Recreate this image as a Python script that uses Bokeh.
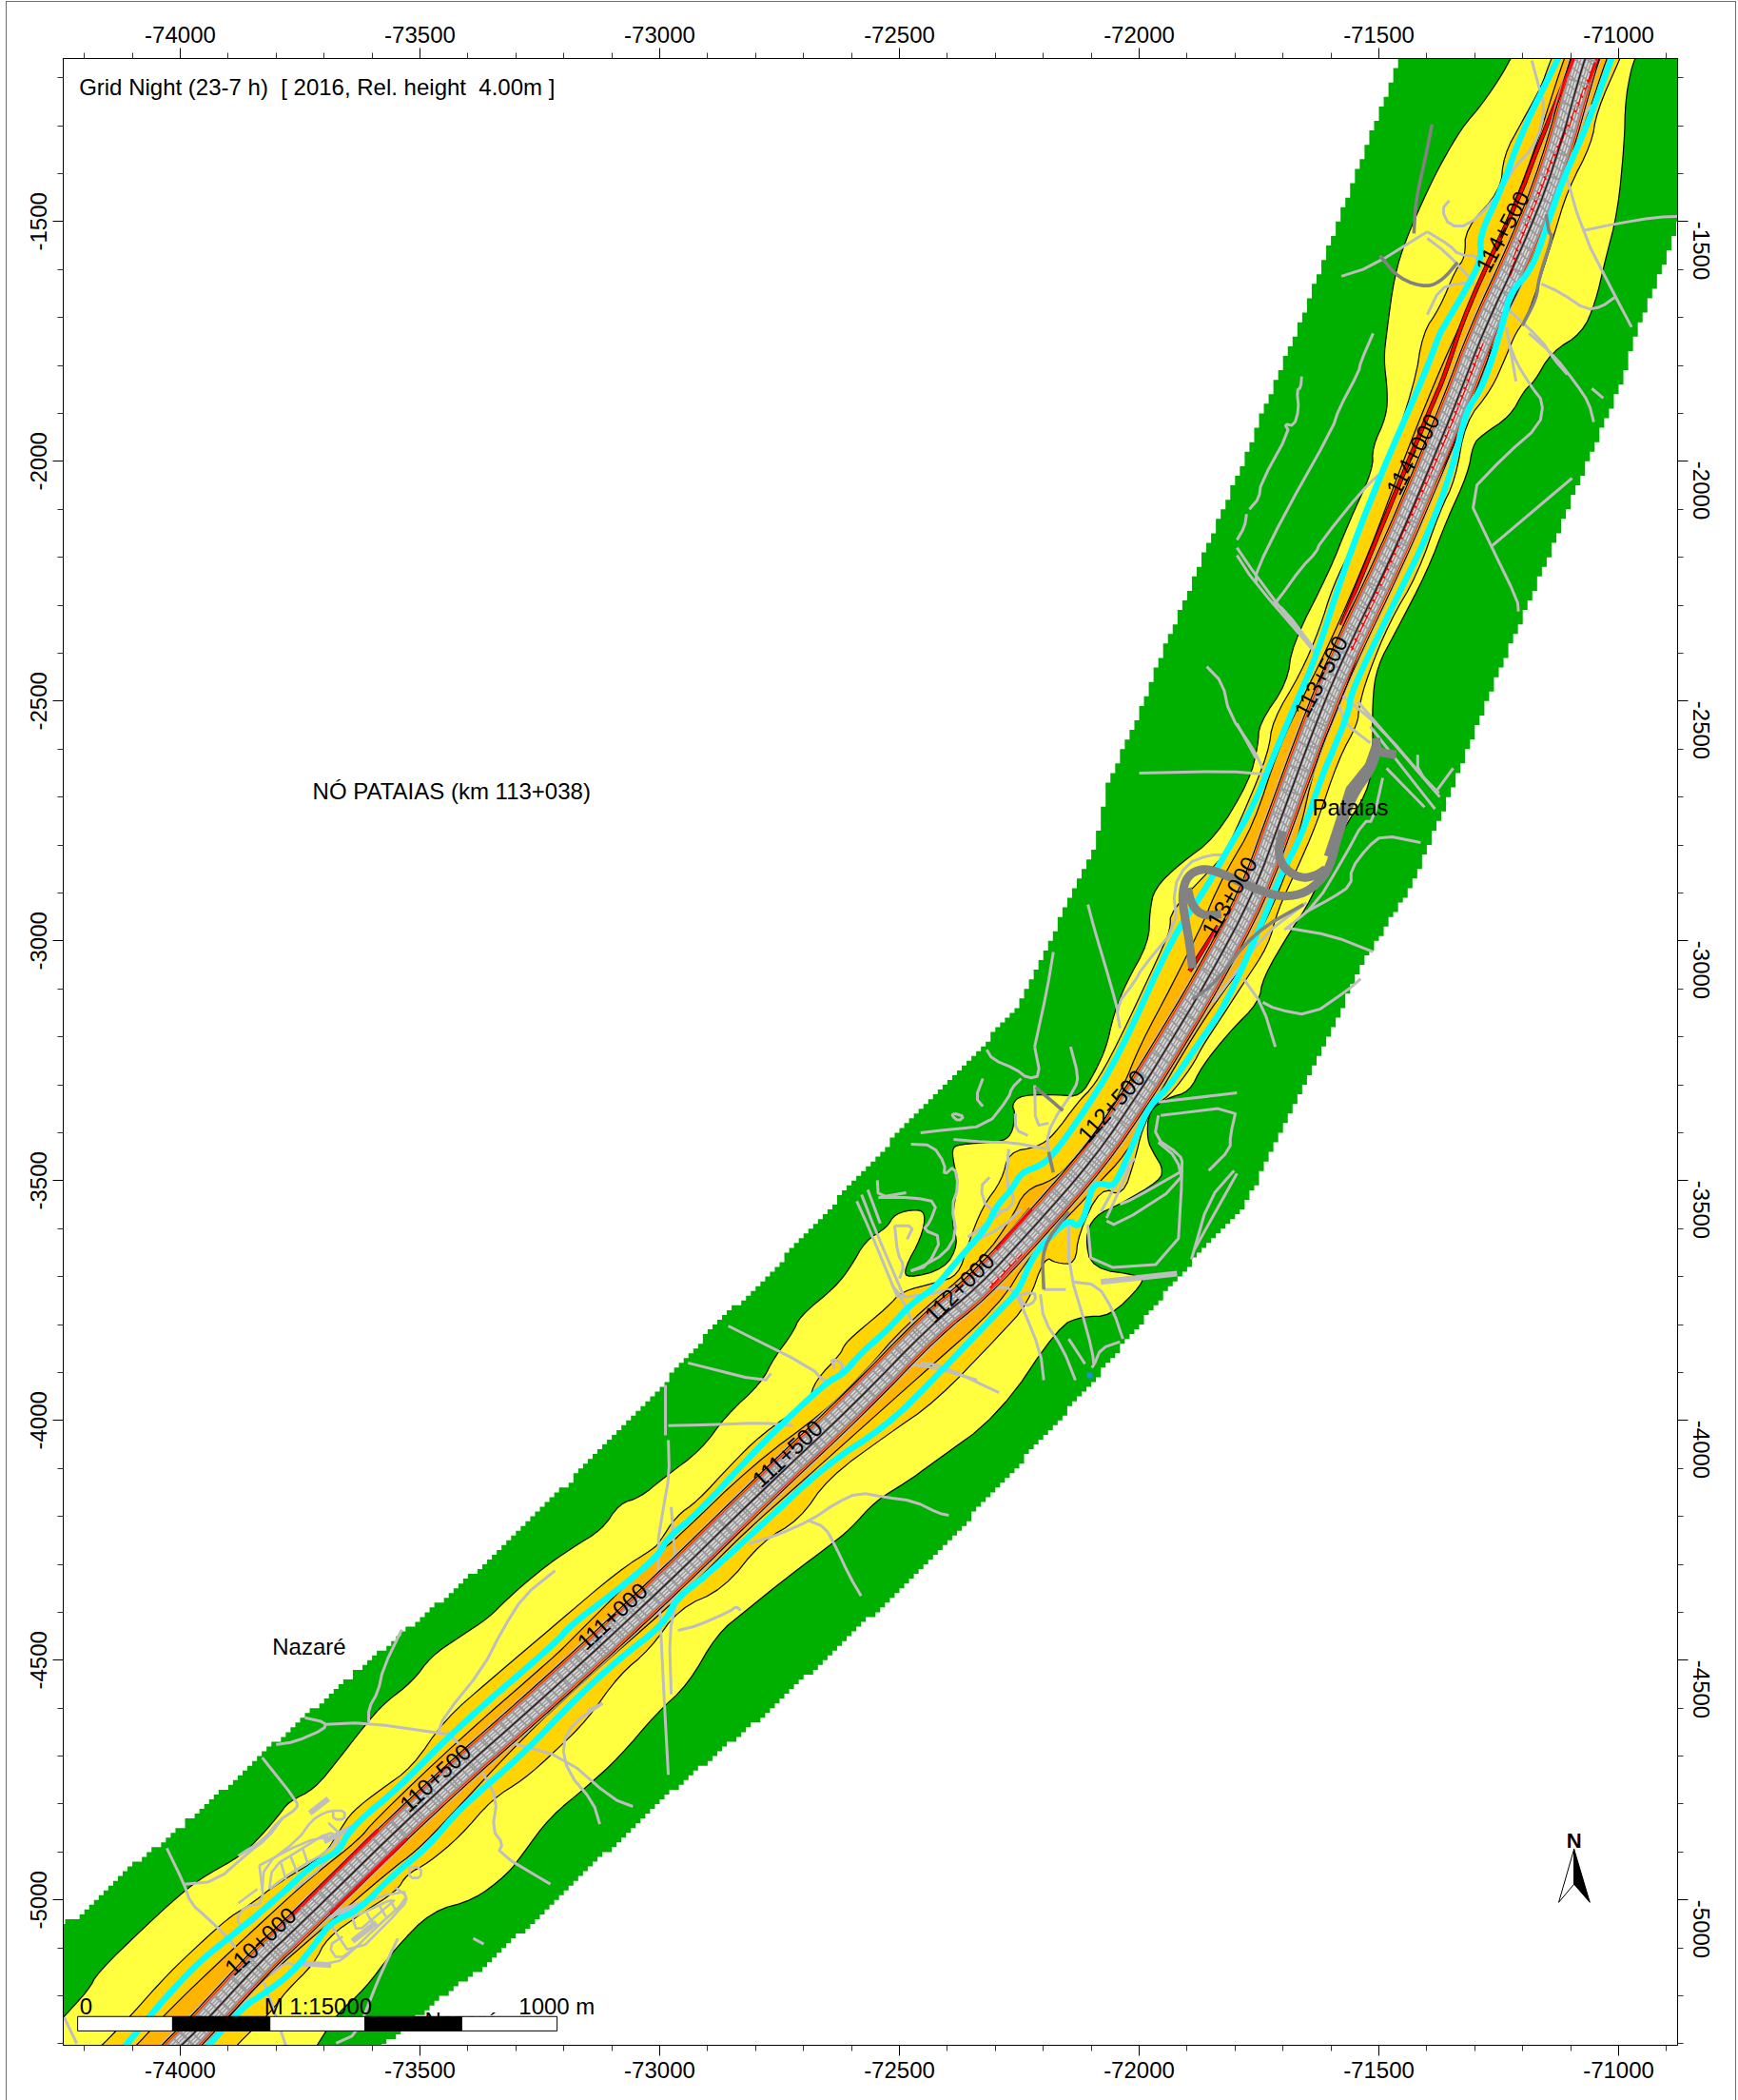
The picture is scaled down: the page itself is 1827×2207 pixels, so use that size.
import math
from bokeh.plotting import figure
from bokeh.embed import file_html
from bokeh.resources import INLINE
from bokeh.core.properties import value
from bokeh.models import LinearAxis, FixedTicker

# ---- axes ----
x_limits = (-74244, -70877)
y_limits = (-5303, -1160)
x_major = [-74000, -73500, -73000, -72500, -72000, -71500, -71000]
y_major = [-1500, -2000, -2500, -3000, -3500, -4000, -4500, -5000]
x_minor = [-74200, -74100, -73900, -73800, -73700, -73600, -73400, -73300, -73200, -73100, -72900, -72800, -72700, -72600, -72400, -72300, -72200, -72100, -71900, -71800, -71700, -71600, -71400, -71300, -71200, -71100, -70900]
y_minor = [-1200, -1300, -1400, -1600, -1700, -1800, -1900, -2100, -2200, -2300, -2400, -2600, -2700, -2800, -2900, -3100, -3200, -3300, -3400, -3600, -3700, -3800, -3900, -4100, -4200, -4300, -4400, -4600, -4700, -4800, -4900, -5100, -5200, -5300]

# ---- noise bands: edges, in grid metres ----
green_left = [(-74260,-5055),(-74216,-5037),(-74157,-4977),(-74077,-4908),(-74028,-4874),(-73958,-4809),(-73879,-4743),(-73786,-4656),(-73635,-4525),(-73482,-4398),(-73383,-4313),(-73185,-4124),(-73085,-4019),(-72986,-3916),(-72887,-3803),(-72794,-3717),(-72490,-3386),(-72331,-3221),(-72252,-3134),(-72093,-2805),(-72064,-2666),(-72008,-2547),(-71964,-2428),(-71796,-2031),(-71730,-1866),(-71673,-1733),(-71570,-1458),(-71457,-1160),(-71447,-1134)]
green_right = [(-70863,-1475),(-70923,-1634),(-70963,-1733),(-70992,-1833),(-71068,-2011),(-71167,-2249),(-71266,-2481),(-71324,-2626),(-71433,-2890),(-71532,-3043),(-71613,-3221),(-71716,-3420),(-71764,-3525),(-71796,-3573),(-71921,-3704),(-72093,-3916),(-72292,-4140),(-72425,-4279),(-72524,-4378),(-72655,-4497),(-72774,-4610),(-72986,-4783),(-73185,-4973),(-73349,-5126),(-73456,-5205),(-73573,-5303),(-73601,-5334)]
green_corners = [(-70860,-1134),(-74260,-5334)]

yellow_left = [(-74264,-5265),(-74244,-5245),(-74190,-5186),(-74173,-5152),(-74071,-5053),(-73992,-4981),(-73944,-4947),(-73873,-4908),(-73833,-4868),(-73794,-4823),(-73774,-4795),(-73720,-4769),(-73667,-4703),(-73615,-4636),(-73575,-4590),(-73516,-4545),(-73476,-4491),(-73417,-4451),(-73357,-4412),(-73318,-4372),(-73250,-4313),(-73185,-4267),(-73119,-4227),(-73085,-4174),(-73040,-4160),(-72992,-4120),(-72913,-4061),(-72861,-3989),(-72788,-3922),(-72762,-3870),(-72722,-3817),(-72708,-3783),(-72635,-3723),(-72603,-3682),(-72570,-3624),(-72526,-3598),(-72510,-3569),(-72464,-3559),(-72445,-3569),(-72454,-3618),(-72490,-3684),(-72484,-3704),(-72405,-3684),(-72377,-3632),(-72391,-3592),(-72385,-3545),(-72377,-3499),(-72385,-3473),(-72391,-3434),(-72377,-3424),(-72292,-3420),(-72266,-3406),(-72258,-3360),(-72266,-3341),(-72246,-3321),(-72167,-3321),(-72123,-3325),(-72093,-3275),(-72068,-3221),(-72054,-3156),(-72028,-3089),(-71980,-3003),(-71978,-2938),(-71968,-2890),(-71915,-2839),(-71841,-2785),(-71770,-2666),(-71752,-2593),(-71750,-2547),(-71691,-2462),(-71681,-2382),(-71603,-2229),(-71564,-2130),(-71512,-2017),(-71514,-1971),(-71484,-1906),(-71482,-1852),(-71490,-1787),(-71484,-1733),(-71468,-1614),(-71443,-1535),(-71399,-1436),(-71369,-1376),(-71326,-1303),(-71286,-1257),(-71246,-1198),(-71226,-1162),(-71211,-1134)]
yellow_right = [(-70953,-1134),(-70967,-1162),(-70976,-1192),(-70986,-1251),(-70988,-1337),(-71002,-1481),(-71028,-1581),(-71048,-1668),(-71076,-1733),(-71141,-1773),(-71175,-1833),(-71197,-1852),(-71226,-1906),(-71286,-1946),(-71304,-1966),(-71314,-2025),(-71359,-2124),(-71399,-2229),(-71464,-2354),(-71504,-2428),(-71514,-2501),(-71512,-2620),(-71524,-2692),(-71578,-2771),(-71643,-2918),(-71683,-2977),(-71742,-3077),(-71750,-3128),(-71810,-3188),(-71869,-3261),(-71895,-3315),(-71940,-3327),(-71980,-3354),(-71984,-3414),(-71968,-3446),(-71951,-3473),(-71955,-3499),(-72040,-3549),(-72093,-3573),(-72113,-3618),(-72099,-3684),(-71994,-3698),(-71994,-3717),(-72060,-3783),(-72119,-3783),(-72167,-3803),(-72292,-3989),(-72437,-4094),(-72484,-4128),(-72550,-4168),(-72603,-4227),(-72643,-4259),(-72734,-4327),(-72822,-4398),(-72881,-4446),(-72941,-4551),(-73006,-4610),(-73085,-4703),(-73151,-4763),(-73230,-4828),(-73284,-4902),(-73318,-4947),(-73389,-5001),(-73476,-5023),(-73556,-5106),(-73615,-5186),(-73675,-5239),(-73714,-5303),(-73736,-5334),(-74264,-5334)]

gold_left = [(-74187,-5324),(-74163,-5303),(-74103,-5241),(-74024,-5152),(-73933,-5067),(-73893,-5033),(-73859,-5013),(-73794,-4963),(-73700,-4908),(-73667,-4854),(-73641,-4815),(-73581,-4769),(-73516,-4723),(-73449,-4624),(-73349,-4537),(-73218,-4426),(-73085,-4313),(-73012,-4267),(-73000,-4253),(-72966,-4200),(-72921,-4168),(-72853,-4094),(-72788,-4029),(-72689,-3961),(-72675,-3916),(-72623,-3862),(-72615,-3842),(-72589,-3817),(-72524,-3763),(-72496,-3731),(-72425,-3713),(-72377,-3698),(-72357,-3632),(-72326,-3553),(-72286,-3499),(-72272,-3440),(-72212,-3430),(-72179,-3406),(-72127,-3335),(-72093,-3301),(-72048,-3221),(-71955,-3023),(-71935,-2977),(-71935,-2938),(-71839,-2839),(-71822,-2819),(-71776,-2720),(-71730,-2606),(-71722,-2541),(-71663,-2442),(-71623,-2348),(-71597,-2263),(-71552,-2170),(-71498,-2051),(-71425,-1839),(-71409,-1733),(-71373,-1680),(-71340,-1600),(-71320,-1575),(-71320,-1515),(-71246,-1436),(-71240,-1362),(-71201,-1291),(-71161,-1218),(-71145,-1172),(-71129,-1134)]
gold_right = [(-70986,-1134),(-70998,-1162),(-71046,-1271),(-71056,-1337),(-71107,-1436),(-71135,-1529),(-71181,-1674),(-71201,-1714),(-71215,-1733),(-71234,-1779),(-71266,-1852),(-71320,-1918),(-71340,-2037),(-71373,-2104),(-71419,-2235),(-71478,-2335),(-71524,-2448),(-71542,-2513),(-71544,-2547),(-71584,-2620),(-71631,-2759),(-71671,-2850),(-71712,-2938),(-71730,-3009),(-71782,-3088),(-71830,-3162),(-71869,-3221),(-71889,-3261),(-71940,-3327),(-71968,-3340),(-71994,-3394),(-72008,-3453),(-72034,-3533),(-72080,-3513),(-72127,-3612),(-72133,-3674),(-72173,-3672),(-72197,-3658),(-72232,-3757),(-72292,-3823),(-72425,-3961),(-72524,-4029),(-72649,-4120),(-72708,-4207),(-72788,-4253),(-72867,-4352),(-72960,-4392),(-73020,-4477),(-73085,-4531),(-73151,-4624),(-73218,-4690),(-73284,-4749),(-73349,-4789),(-73417,-4868),(-73482,-4922),(-73528,-4947),(-73548,-4981),(-73621,-5027),(-73695,-5080),(-73720,-5132),(-73780,-5191),(-73808,-5231),(-73883,-5303),(-73907,-5334)]

orange_left = [(-74117,-5328),(-74091,-5303),(-74038,-5245),(-73958,-5166),(-73794,-5013),(-73720,-4947),(-73627,-4874),(-73595,-4834),(-73417,-4664),(-73218,-4491),(-73185,-4458),(-73000,-4273),(-72966,-4247),(-72808,-4094),(-72655,-3981),(-72570,-3896),(-72490,-3803),(-72326,-3664),(-72266,-3579),(-72238,-3519),(-72179,-3499),(-72139,-3459),(-72093,-3406),(-72034,-3307),(-72000,-3221),(-71929,-3088),(-71861,-2950),(-71849,-2918),(-71816,-2850),(-71762,-2759),(-71710,-2600),(-71663,-2501),(-71597,-2368),(-71518,-2184),(-71459,-2025),(-71399,-1872),(-71339,-1733),(-71306,-1668),(-71240,-1515),(-71181,-1370),(-71115,-1162),(-71101,-1134)]
orange_right = [(-71012,-1134),(-71026,-1162),(-71068,-1291),(-71135,-1470),(-71201,-1634),(-71260,-1733),(-71280,-1819),(-71320,-1898),(-71359,-2005),(-71433,-2130),(-71504,-2289),(-71578,-2501),(-71631,-2620),(-71671,-2799),(-71722,-2930),(-71782,-3049),(-71841,-3128),(-71901,-3221),(-71974,-3346),(-72028,-3446),(-72093,-3513),(-72119,-3545),(-72226,-3652),(-72292,-3761),(-72456,-3906),(-72589,-4025),(-72722,-4144),(-72822,-4233),(-72921,-4332),(-72986,-4392),(-73151,-4537),(-73284,-4660),(-73449,-4838),(-73508,-4898),(-73562,-4938),(-73734,-5086),(-73780,-5126),(-73853,-5191),(-73946,-5303),(-73974,-5328)]

# ---- motorway axis and barriers ----
road_center = [(-74022,-5328),(-73998,-5303),(-73964,-5271),(-73825,-5120),(-73760,-5061),(-73482,-4789),(-73218,-4557),(-72986,-4342),(-72788,-4148),(-72589,-3961),(-72437,-3803),(-72337,-3723),(-72226,-3604),(-72093,-3453),(-71994,-3307),(-71941,-3221),(-71861,-3088),(-71762,-2904),(-71697,-2725),(-71637,-2561),(-71583,-2428),(-71472,-2196),(-71399,-2025),(-71334,-1866),(-71284,-1733),(-71201,-1555),(-71135,-1390),(-71072,-1162),(-71058,-1134)]
barrier_left = [(-74137,-5328),(-74113,-5303),(-74038,-5211),(-73958,-5126),(-73889,-5072),(-73794,-4993),(-73726,-4928),(-73687,-4908),(-73667,-4894),(-73651,-4862),(-73615,-4824),(-73548,-4769),(-73417,-4636),(-73218,-4465),(-73185,-4426),(-73085,-4352),(-73000,-4279),(-72986,-4247),(-72921,-4194),(-72788,-4049),(-72655,-3922),(-72615,-3902),(-72583,-3862),(-72524,-3811),(-72476,-3757),(-72425,-3723),(-72377,-3664),(-72318,-3598),(-72298,-3553),(-72266,-3519),(-72246,-3483),(-72206,-3469),(-72179,-3446),(-72113,-3354),(-72040,-3235),(-71929,-2989),(-71869,-2904),(-71816,-2811),(-71762,-2720),(-71722,-2620),(-71677,-2513),(-71631,-2408),(-71572,-2223),(-71498,-2031),(-71405,-1819),(-71373,-1733),(-71365,-1720),(-71306,-1620),(-71286,-1575),(-71290,-1529),(-71246,-1436),(-71201,-1311),(-71127,-1162),(-71115,-1134)]
barrier_right = [(-73968,-5328),(-73940,-5303),(-73865,-5219),(-73833,-5201),(-73766,-5152),(-73714,-5086),(-73687,-5047),(-73627,-5021),(-73562,-4953),(-73482,-4888),(-73417,-4809),(-73284,-4695),(-73185,-4590),(-73085,-4497),(-72992,-4426),(-72966,-4372),(-72907,-4327),(-72788,-4219),(-72655,-4094),(-72524,-4009),(-72437,-3922),(-72292,-3771),(-72252,-3731),(-72228,-3672),(-72206,-3638),(-72147,-3579),(-72129,-3598),(-72113,-3573),(-72099,-3513),(-72080,-3505),(-72054,-3513),(-72034,-3473),(-72000,-3394),(-71980,-3346),(-71935,-3301),(-71881,-3221),(-71816,-3128),(-71736,-2944),(-71703,-2858),(-71663,-2785),(-71617,-2652),(-71603,-2620),(-71562,-2521),(-71558,-2481),(-71478,-2315),(-71399,-2156),(-71345,-2011),(-71320,-1898),(-71280,-1839),(-71240,-1708),(-71226,-1648),(-71181,-1600),(-71147,-1501),(-71115,-1410),(-71062,-1291),(-71016,-1162),(-71004,-1134)]

red_strips = [
 [(-71086,-1134),(-71095,-1164),(-71135,-1263),(-71175,-1362),(-71207,-1450),(-71314,-1674),(-71365,-1827),(-71385,-1872),(-71484,-2110),(-71578,-2342)],
 [(-71034,-1134),(-71046,-1164),(-71087,-1263),(-71135,-1362),(-71175,-1462),(-71214,-1561),(-71226,-1614)],
 [(-71284,-1753),(-71353,-1932),(-71425,-2097),(-71478,-2215),(-71558,-2394)],
 [(-71895,-3063),(-71835,-2969)],
 [(-72298,-3644),(-72226,-3559)],
 [(-72312,-3723),(-72246,-3652)],
 [(-73766,-5031),(-73587,-4854)],
 [(-73687,-5027),(-73528,-4872)],
]

# ---- local roads (light grey) ----
roads = [
 ([-71661,-71663,-71671,-71667,-71677,-71697,-71687,-71746,-71750,-71770],[-1823,-1846,-1852,-1892,-1926,-1922,-1938,-2045,-2077,-2100]),
 ([-71776,-71780,-71796],[-2110,-2136,-2164]),
 ([-71512,-71538,-71542,-71584,-71597,-71697,-71756,-71756],[-1733,-1793,-1813,-1892,-1932,-2110,-2229,-2255]),
 ([-71488,-71532,-71623,-71631,-71663,-71710,-71722],[-2017,-2057,-2170,-2190,-2223,-2289,-2299]),
 ([-71796,-71762,-71637],[-2196,-2249,-2394]),
 ([-71796,-71756,-71627],[-2180,-2239,-2408]),
 ([-71722,-71697,-71637],[-2295,-2309,-2388]),
 ([-71796,-71756],[-2547,-2620]),
 ([-71226,-71214,-71181,-71157,-71165,-71234,-71316,-71266,-71211,-71209],[-1759,-1793,-1846,-1876,-1926,-1985,-2071,-2176,-2289,-2313]),
 ([-71264,-71097],[-2176,-2035]),
 ([-71056,-71032],[-1848,-1868]),
 ([-71187,-71135,-71088,-71062,-71052],[-1733,-1779,-1839,-1878,-1918]),
 ([-71181,-71165,-71155,-71161,-71181,-71214,-71234,-71266,-71314,-71353,-71369,-71353],[-1164,-1224,-1257,-1303,-1350,-1382,-1416,-1462,-1509,-1509,-1475,-1456]),
 ([-71056,-71101,-71121,-71076,-71008,-70973],[-1257,-1317,-1362,-1521,-1654,-1720]),
 ([-71076,-71008,-70923,-70863],[-1519,-1505,-1491,-1489]),
 ([-71161,-71121,-71068,-71036,-71008],[-1630,-1648,-1684,-1678,-1658]),
 ([-71234,-71161,-71135,-71107],[-1680,-1747,-1787,-1819]),
 ([-71234,-71214],[-1720,-1833]),
 ([-71399,-71353,-71334,-71296,-71294],[-1521,-1549,-1569,-1571,-1589]),
 ([-71399,-71359,-71310],[-1535,-1565,-1618]),
 ([-71399,-71373,-71334,-71300],[-1694,-1640,-1628,-1630]),
 ([-71578,-71518,-71399],[-1614,-1595,-1521]),
 ([-72000,-71816,-71742],[-2650,-2646,-2652]),
 ([-71859,-71826,-71812,-71762,-71742],[-2428,-2462,-2527,-2600,-2640]),
 ([-71822,-71855,-71901,-71929,-71921,-71994,-72008,-72048,-72040],[-2821,-2821,-2839,-2890,-2969,-3057,-3083,-3136,-3182]),
 ([-72107,-72093,-72060,-72044],[-2924,-2977,-3088,-3148]),
 ([-71782,-71742,-71716],[-3079,-3136,-3221]),
 ([-71742,-71716,-71643,-71564,-71538],[-3128,-3142,-3156,-3102,-3079]),
 ([-71691,-71597,-71512],[-2973,-2989,-3023]),
 ([-71653,-71597,-71558,-71558,-71524,-71492,-71413],[-2940,-2910,-2884,-2850,-2805,-2779,-2795]),
 ([-71697,-71631,-71572,-71532,-71512,-71492],[-2977,-2924,-2825,-2751,-2751,-2660]),
 ([-71578,-71498,-71379],[-2487,-2553,-2692]),
 ([-71544,-71373],[-2501,-2700]),
 ([-71484,-71405],[-2640,-2721]),
 ([-71518,-71383],[-2553,-2725]),
 ([-71345,-71379],[-2640,-2686]),
 ([-71419,-71419,-71375],[-2612,-2646,-2692]),
 ([-71583,-71571,-71518],[-2507,-2547,-2587]),
 ([-71845,-71742,-71651],[-3128,-2989,-2920]),
 ([-72199,-72153],[-3727,-3727]),
 ([-71960,-71968,-71915,-71909,-71921,-72099,-72107],[-3364,-3410,-3446,-3465,-3672,-3684,-3592]),
 ([-72068,-72048,-71909,-71921,-71960],[-3584,-3594,-3505,-3453,-3420]),
 ([-72040,-72014,-71909],[-3549,-3539,-3479]),
 ([-71960,-71796],[-3336,-3317]),
 ([-71891,-71855,-71802],[-3664,-3539,-3479]),
 ([-71885,-71796],[-3644,-3485]),
 ([-71955,-71796,-71810,-71810,-71855],[-3364,-3345,-3406,-3434,-3479]),
 ([-72476,-72431,-72405,-72407,-72385,-72377,-72391,-72381,-72405,-72451,-72476],[-3424,-3426,-3465,-3489,-3469,-3513,-3553,-3612,-3652,-3678,-3688]),
 ([-72456,-72405,-72318,-72272,-72266,-72246],[-3400,-3394,-3386,-3327,-3307,-3287]),
 ([-72318,-72306,-72258,-72232,-72206,-72218],[-3227,-3247,-3267,-3287,-3281,-3221]),
 ([-72218,-72192,-72179],[-3221,-3102,-3023]),
 ([-72143,-72127,-72133,-72183,-72193,-72187],[-3221,-3281,-3307,-3380,-3420,-3440]),
 ([-72258,-72258,-72232],[-3360,-3394,-3406]),
 ([-72218,-72216,-72189],[-3301,-3386,-3380]),
 ([-72387,-72318,-72266,-72193],[-3414,-3420,-3420,-3434]),
 ([-72326,-72341,-72326],[-3287,-3327,-3345]),
 ([-72385,-72365,-72377,-72391,-72385],[-3360,-3366,-3376,-3364,-3360]),
 ([-72312,-72332,-72318,-72278,-72258,-72278,-72272],[-3493,-3513,-3559,-3565,-3539,-3505,-3434]),
 ([-72357,-72286],[-3618,-3565]),
 ([-72357,-72286,-72246],[-3632,-3598,-3559]),
 ([-72589,-72564,-72504],[-3543,-3598,-3743]),
 ([-72579,-72550,-72490],[-3529,-3604,-3743]),
 ([-72566,-72540],[-3519,-3589]),
 ([-72490,-72411,-72312],[-3743,-3733,-3698]),
 ([-72546,-72544,-72486],[-3499,-3535,-3525]),
 ([-72544,-72470,-72421,-72437,-72451,-72411,-72441,-72476],[-3535,-3535,-3545,-3588,-3602,-3618,-3678,-3688]),
 ([-72510,-72504,-72490,-72500],[-3594,-3652,-3678,-3704]),
 ([-72510,-72470,-72484],[-3594,-3594,-3622]),
 ([-72147,-72147,-72107,-72093,-72099],[-3584,-3684,-3817,-3882,-3890]),
 ([-72139,-72087,-72054,-72034],[-3711,-3717,-3771,-3830]),
 ([-72206,-72199,-72159,-72133],[-3737,-3791,-3850,-3916]),
 ([-72306,-72266,-72246,-72206,-72199],[-3723,-3723,-3757,-3856,-3916]),
 ([-72147,-72113],[-3830,-3882]),
 ([-72093,-72080,-72040],[-3882,-3850,-3836]),
 ([-72266,-72218,-72216,-72238,-72252],[-3743,-3731,-3751,-3763,-3737]),
 ([-72080,-72028,-72008],[-3565,-3473,-3453]),
 ([-72068,-72020],[-3578,-3473]),
 ([-72490,-72425,-72338],[-3882,-3890,-3916]),
 ([-72857,-72683,-72655,-72629,-72615,-72643,-72635],[-3803,-3890,-3922,-3910,-3882,-3870,-3892]),
 ([-72941,-72782,-72768],[-3880,-3920,-3902]),
 ([-72988,-72988],[-3926,-4031]),
 ([-72982,-72887,-72788,-72722],[-4011,-4009,-4005,-4011]),
 ([-72982,-72980,-72992,-73006,-72992,-72982],[-4041,-4114,-4180,-4267,-4557,-4739]),
 ([-72966,-72980,-72976],[-4378,-4446,-4571]),
 ([-72976,-72966,-72976],[-4180,-4313,-4392]),
 ([-72814,-72754,-72683,-72635,-72585,-72530,-72470,-72417,-72397],[-4257,-4239,-4207,-4174,-4150,-4160,-4168,-4194,-4198]),
 ([-72689,-72655,-72635,-72603,-72580],[-4209,-4223,-4259,-4327,-4366]),
 ([-72962,-72921,-72853,-72841,-72831],[-4438,-4428,-4398,-4388,-4396]),
 ([-72456,-72411,-72292],[-3880,-3886,-3942]),
 ([-72516,-72496,-72470],[-3717,-3743,-3803]),
 ([-73151,-73119],[-4606,-4590]),
 ([-73538,-73577,-73587,-73607,-73607],[-4436,-4517,-4565,-4600,-4630]),
 ([-73800,-73760,-73700,-73696,-73740],[-4676,-4670,-4644,-4630,-4620]),
 ([-73696,-73615,-73443],[-4634,-4630,-4654]),
 ([-73218,-73284,-73329,-73369,-73449,-73462],[-4313,-4366,-4438,-4517,-4616,-4650]),
 ([-73443,-73417],[-4650,-4676]),
 ([-73829,-73756,-73756,-73794,-73825,-73879],[-4703,-4795,-4809,-4834,-4874,-4908]),
 ([-73369,-73339,-73349,-73327,-73337,-73228],[-4735,-4789,-4854,-4882,-4902,-4967]),
 ([-73304,-73198,-73099,-73056],[-4674,-4703,-4789,-4805]),
 ([-73119,-73179,-73204,-73191,-73139,-73125],[-4590,-4630,-4676,-4735,-4795,-4842]),
 ([-73389,-73367],[-5080,-5092]),
 ([-73546,-73581,-73601,-73631,-73675],[-5080,-5152,-5201,-5279,-5299]),
 ([-74028,-73992,-73978,-73944,-73899,-73885],[-4892,-4967,-5007,-5037,-5080,-5100]),
 ([-73992,-73925,-73859,-73819,-73786],[-4967,-4961,-4902,-4872,-4828]),
 ([-74242,-74216],[-5245,-5299]),
 ([-73825,-73780],[-5172,-5303]),
]
# service-area blocks beside the road near km 110
service_areas = [
 ([-73829,-73825,-73754,-73726,-73700,-73681],[-4981,-4928,-4874,-4834,-4818,-4814]),
 ([-73814,-73808,-73748,-73691,-73671,-73691,-73760,-73814],[-4977,-4931,-4894,-4858,-4868,-4898,-4937,-4977]),
 ([-73790,-73780],[-4922,-4957]),
 ([-73770,-73756],[-4908,-4943]),
 ([-73744,-73734],[-4894,-4924]),
 ([-73879,-73839],[-5007,-4977]),
 ([-73681,-73657,-73657,-73681,-73681],[-4814,-4814,-4832,-4832,-4814]),
 ([-73681,-73534,-73528,-73587,-73647,-73675,-73760],[-5027,-4977,-5001,-5053,-5112,-5132,-5136]),
 ([-73641,-73542,-73591,-73631,-73641],[-5037,-4991,-5033,-5067,-5037]),
 ([-73611,-73597],[-5027,-5051]),
 ([-73585,-73571],[-5011,-5035]),
 ([-73562,-73552],[-4999,-5019]),
 ([-73760,-73780,-73810],[-5136,-5130,-5156]),
 ([-73522,-73498,-73498,-73522,-73522],[-4932,-4932,-4954,-4954,-4932]),
 ([-73835,-73825,-73865,-73885,-73863,-73839,-73800],[-4928,-5007,-5013,-5043,-5057,-5037,-4997]),
 ([-73835,-73740,-73691],[-4928,-4878,-4868]),
 ([-73691,-73661,-73700,-73760],[-4839,-4868,-4928,-4977]),
 ([-73685,-73641,-73534,-73526,-73552],[-5053,-5120,-5013,-4993,-4973]),
 ([-73661,-73691,-73671,-73631],[-5076,-5096,-5126,-5096]),
]
service_blobs = [
 ([-73700,-73641],[-4878,-4848]),
 ([-73730,-73691],[-4819,-4789]),
 ([-73700,-73621],[-5037,-5007]),
 ([-73641,-73591],[-5086,-5047]),
 ([-73756,-73685],[-5132,-5136]),
 ([-71921,-72080],[-3694,-3711]),
]
# ramps (dark grey)
ramps = [
 ([-71389,-71405,-71423,-71427],[-1297,-1376,-1456,-1525]),
 ([-71336,-71365,-71399,-71457,-71498],[-1585,-1620,-1638,-1620,-1571]),
 ([-71151,-71145,-71137,-71167,-71171,-71201],[-1485,-1525,-1529,-1620,-1660,-1717]),
 ([-72216,-72159],[-3305,-3354]),
 ([-72189,-72179],[-3440,-3483]),
 ([-72147,-72203,-72199],[-3565,-3638,-3727]),
 ([-71657,-71762,-71841,-71889],[-2924,-2983,-3088,-3122]),
]
interchange = [
 ([-71889,-71895,-71905,-71911,-71901,-71869,-71829,-71762,-71710,-71663,-71631,-71603,-71583,-71552,-71518,-71504],[-3057,-3003,-2950,-2905,-2865,-2848,-2858,-2890,-2908,-2904,-2884,-2850,-2771,-2692,-2646,-2606]),
 ([-71829,-71869,-71891,-71899],[-2944,-2948,-2924,-2890]),
 ([-71701,-71711,-71697,-71663,-71631,-71611],[-2771,-2819,-2850,-2870,-2864,-2850]),
 ([-71506,-71504,-71464],[-2577,-2606,-2612]),
]
interchange_wide = ([-71603,-71583,-71558,-71518,-71504],[-2825,-2765,-2686,-2636,-2596])

# ---- labels ----
chainage_text = ["110+000","110+500","111+000","111+500","112+000","112+500","113+000","113+500","114+000","114+500"]
chainage_x = [-73833,-73468,-73099,-72734,-72375,-72058,-71812,-71621,-71429,-71242]
chainage_y = [-5086,-4745,-4408,-4069,-3723,-3344,-2908,-2448,-1985,-1521]
chainage_angle = [43,43,43,43,45,48,60,62,62,62]

place_text = ["Grid Night (23-7 h)\u00a0\u00a0[ 2016, Rel. height\u00a0\u00a04.00m ]","NÓ PATAIAS (km 113+038)","Nazaré","Pataias","Nazaré"]
place_x = [-74211,-73724,-73808,-71639,-73490]
place_y = [-1219,-2688,-4471,-2721,-5251]

scale_edges = [-74214,-74016,-73813,-73615,-73413,-73214]
scale_colors = ["white","black","white","black","white"]
scale_bottom, scale_top = -5273, -5243
scale_text = ["0","M 1:15000","1000 m"]
scale_text_x = [-74210,-73825,-73294]
scale_text_y = [-5221,-5221,-5221]

north_left_x, north_left_y = [-71093,-71125,-71093],[-4894,-5005,-4967]
north_right_x, north_right_y = [-71093,-71060,-71093],[-4894,-5005,-4967]
north_text_x, north_text_y = [-71093],[-4876]
blue_x, blue_y = [-72103],[-3906]

FONT = "Liberation Sans"
COLORS = dict(green="#00B000", yellow="#FFFF40", gold="#FFD400", orange="#FFB400", red="#FF0000", cyan="#00FFFF", road="#BEBEBE", ramp="#828282", lane="#9A9A9A")


def unzip(points):
    return [q[0] for q in points], [q[1] for q in points]


def rounded(points, passes=2):
    """Round the corners of a hand-read polyline (corner cutting, end points kept)."""
    pts = list(points)
    for _ in range(passes):
        out = [pts[0]]
        for a, b in zip(pts[:-1], pts[1:]):
            out.append((0.75 * a[0] + 0.25 * b[0], 0.75 * a[1] + 0.25 * b[1]))
            out.append((0.25 * a[0] + 0.75 * b[0], 0.25 * a[1] + 0.75 * b[1]))
        out.append(pts[-1])
        pts = out
    return pts


def rounded_lines(lines, passes=2):
    xs, ys = [], []
    for lx, ly in lines:
        rx, ry = unzip(rounded(list(zip(lx, ly)), passes))
        xs.append(rx)
        ys.append(ry)
    return xs, ys


def staircase(points, cell=10):
    """Follow an edge along the 10 m calculation cells of the noise grid."""
    out = []
    for (x0, y0), (x1, y1) in zip(points[:-1], points[1:]):
        n = int(max(abs(x1 - x0), abs(y1 - y0)) / 2) + 1
        for i in range(n + 1):
            gx = round((x0 + (x1 - x0) * i / n) / cell) * cell
            gy = round((y0 + (y1 - y0) * i / n) / cell) * cell
            if not out:
                out.append((gx, gy))
            elif (gx, gy) != out[-1]:
                if gx != out[-1][0] and gy != out[-1][1]:
                    out.append((gx, out[-1][1]))
                out.append((gx, gy))
    return out


def beside(points, d):
    """Line parallel to a polyline, d metres to its left."""
    out = []
    m = len(points)
    for i in range(m):
        a = points[max(i - 1, 0)]
        b = points[min(i + 1, m - 1)]
        dx, dy = b[0] - a[0], b[1] - a[1]
        h = math.hypot(dx, dy)
        out.append((points[i][0] - dy / h * d, points[i][1] + dx / h * d))
    return out


p = figure(width=1827, height=2207, x_range=x_limits, y_range=y_limits,
           x_axis_type=None, y_axis_type=None, output_backend="svg", toolbar_location=None,
           min_border_left=66, min_border_right=64, min_border_top=61, min_border_bottom=58,
           background_fill_color="white", border_fill_color="white",
           outline_line_color="black", outline_line_width=1)
p.stylesheets = [":host::after{content:'';position:absolute;left:6px;top:1px;right:2px;bottom:0;"
                 "border:1.5px solid #6E6E6E;border-bottom:none;pointer-events:none;z-index:10;}"]

# axes
for place, ticks, minor, orient, standoff in (("above", x_major, x_minor, "horizontal", 6),
                                              ("below", x_major, x_minor, "horizontal", 6),
                                              ("left", y_major, y_minor, "vertical", 6),
                                              ("right", y_major, y_minor, -math.pi / 2, 14)):
    ax = LinearAxis(ticker=FixedTicker(ticks=ticks, minor_ticks=minor),
                    major_label_overrides={t: str(t) for t in ticks},
                    major_label_text_font=FONT, major_label_text_font_size="24px",
                    major_label_text_color="black", major_label_orientation=orient,
                    major_label_standoff=standoff,
                    major_tick_in=0, major_tick_out=11, minor_tick_in=0, minor_tick_out=6,
                    axis_line_color="black", major_tick_line_color="black", minor_tick_line_color="#333333")
    p.add_layout(ax, place)

# bands
gx, gy = unzip(staircase(green_left) + green_corners[:1] + staircase(green_right) + green_corners[1:])
p.patch(gx, gy, fill_color=COLORS["green"], line_color=None)
for left, right, c in ((yellow_left, yellow_right, "yellow"), (gold_left, gold_right, "gold"), (orange_left, orange_right, "orange")):
    bx, by = unzip(rounded(left) + rounded(right))
    p.patch(bx, by, fill_color=COLORS[c], line_color="black", line_width=1.2, line_join="round")

# local roads
rx, ry = rounded_lines(roads, 1)
p.multi_line(rx, ry, line_color=COLORS["road"], line_width=3, line_join="round")
rx, ry = rounded_lines(service_areas, 1)
p.multi_line(rx, ry, line_color=COLORS["road"], line_width=2.6, line_join="round")
p.multi_line([r[0] for r in service_blobs], [r[1] for r in service_blobs], line_color=COLORS["road"], line_width=6)
p.scatter(blue_x, blue_y, marker="square", size=5, color="#1E8FE0")

# motorway
road_path = rounded(road_center)
cx, cy = unzip(road_path)
for side in (-1, 1):
    ex, ey = unzip(beside(road_path, side * 29))
    p.line(ex, ey, line_color="black", line_width=1.2)
strip_xy = [unzip(rounded(s)) for s in red_strips]
p.multi_line([s[0] for s in strip_xy], [s[1] for s in strip_xy], line_color="black", line_width=4.8, line_join="round")
p.line(cx, cy, line_color=COLORS["lane"], line_width=24, line_join="round")
p.multi_line([s[0] for s in strip_xy], [s[1] for s in strip_xy], line_color=COLORS["red"], line_width=3.2, line_join="round")
for side in (-1, 1):
    ex, ey = unzip(beside(road_path, side * 25))
    p.line(ex, ey, line_color="#FF2020", line_width=1.2)
    ex, ey = unzip(beside(road_path, side * 32))
    p.line(ex, ey, line_color=COLORS["road"], line_width=1.2, line_alpha=0.8)
    for d in (5, 11, 17):
        ex, ey = unzip(beside(road_path, side * d))
        p.line(ex, ey, line_color="#DADADA", line_width=1.6, line_dash="7 2")
p.line(cx, cy, line_color=COLORS["lane"], line_width=24, line_dash="2 24", line_join="round")
p.line(cx, cy, line_color="#2A1A1A", line_width=1.5)

# barriers
for b in (barrier_left, barrier_right):
    bx, by = unzip(rounded(b))
    p.line(bx, by, line_color=COLORS["cyan"], line_width=6.5, line_join="round")

# ramps over the barriers
rx, ry = rounded_lines(ramps, 2)
p.multi_line(rx, ry, line_color=COLORS["ramp"], line_width=3.6, line_join="round")
rx, ry = rounded_lines(interchange, 3)
p.multi_line(rx, ry, line_color=COLORS["ramp"], line_width=9, line_join="round")
p.line(interchange_wide[0], interchange_wide[1], line_color=COLORS["ramp"], line_width=12, line_join="round")

# chainage and place names
p.text(chainage_x, chainage_y, text=chainage_text, angle=chainage_angle, angle_units="deg",
       text_font=value(FONT), text_font_size=value("24px"), text_align="center", text_baseline="middle", text_color="black")
p.text(place_x, place_y, text=place_text, text_font=value(FONT), text_font_size=value("24px"),
       text_align="left", text_baseline="alphabetic", text_color="black")

# scale bar
p.quad(left=scale_edges[:-1], right=scale_edges[1:], bottom=scale_bottom, top=scale_top,
       fill_color=scale_colors, line_color="black", line_width=1)
p.text(scale_text_x, scale_text_y, text=scale_text, text_font=value(FONT), text_font_size=value("24px"),
       text_align="left", text_baseline="alphabetic", text_color="black")

# north arrow
p.patch(north_left_x, north_left_y, fill_color="white", line_color="black", line_width=1)
p.patch(north_right_x, north_right_y, fill_color="black", line_color="black", line_width=1)
p.text(north_text_x, north_text_y, text=["N"], text_font=value(FONT), text_font_size=value("22px"),
       text_font_style="bold", text_align="center", text_baseline="alphabetic", text_color="black")

open("out.html", "w").write(file_html(p, INLINE))
